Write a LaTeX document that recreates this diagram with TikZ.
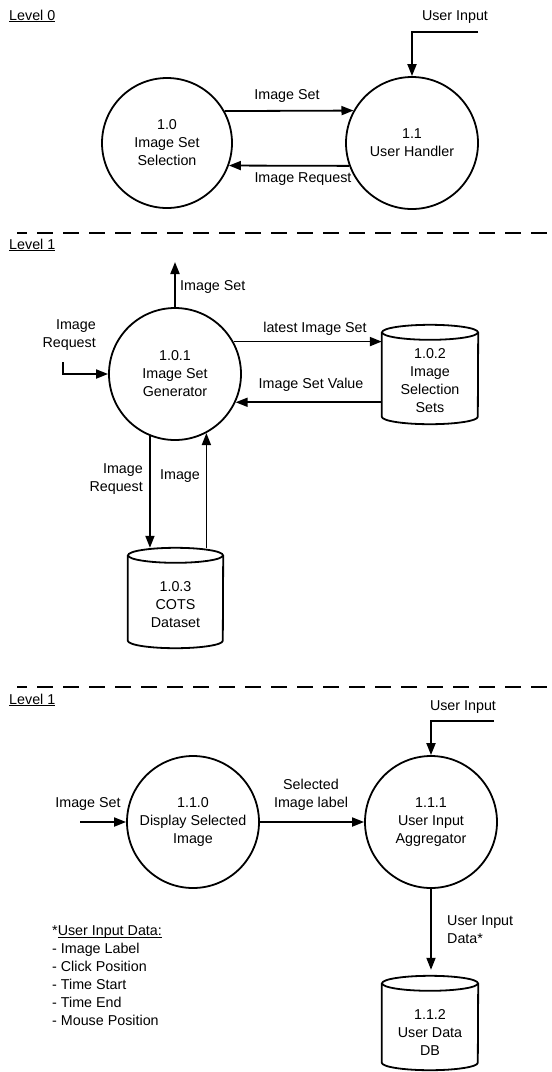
\documentclass[tikz,border=0pt]{standalone}
\usepackage{fontspec}
\setmainfont{Liberation Sans}
\usetikzlibrary{arrows.meta}
\newcommand{\myul}[1]{\setbox0\hbox{#1}\rlap{\rule[-2pt]{\wd0}{0.9pt}}\box0}
\tikzset{
  line/.style={line width=1.8pt},
  arr/.style={line width=1.8pt, -{Triangle[length=12pt,width=9pt]}},
  proc/.style={circle, draw, line width=1.8pt, minimum size=132pt, inner sep=0pt, align=center},
  store/.style={rectangle, draw=none, minimum width=96pt, inner sep=0pt},
  lbl/.style={inner sep=0pt, align=center},
  sepline/.style={line width=1.8pt, dash pattern=on 16pt off 10pt, dash phase=6pt},
}
\newcommand{\cylout}[2]{%
  \draw[line] ([yshift=-7.5pt]#1.north west) -- ([yshift=7.5pt]#1.south west)
    arc[start angle=180,end angle=360,x radius=#2,y radius=7.5pt]
    -- ([yshift=-7.5pt]#1.north east);
  \draw[line] ([yshift=-7.5pt]#1.north) ellipse[x radius=#2,y radius=7.5pt];}
\begin{document}
\begin{tikzpicture}[x=1pt,y=-1pt, every node/.append style={font=\fontsize{14.3pt}{18pt}\selectfont}]
\useasboundingbox (0,0) rectangle (552,1072);

% ---------- Level 0 ----------
\node[lbl,anchor=west] (lv0) at (9,16) {\myul{Level 0}};
\node[proc, minimum size=130pt] (c10) at (167,143) {1.0\\Image Set\\Selection};
\node[proc] (c11) at (412,143) {1.1\\User Handler};
\node[lbl] (ui0) at (455,17) {User Input};
\coordinate (ui0s) at (478,32);
\draw[arr] (ui0s) -| (c11.north);
\draw[arr] (c10.29.5) -- (c11.151);
\node[lbl] (lisA) at (287,96) {Image Set};
\draw[arr] (c11.200.4) -- (c10.-20.7);
\node[lbl] (lirA) at (303,179) {Image Request};

\coordinate (d1a) at (17,233);
\coordinate (d1b) at (552,233);
\draw[sepline] (d1a) -- (d1b);

% ---------- Level 1 (a) ----------
\node[lbl,anchor=west] (lv1a) at (9,245) {\myul{Level 1}};
\node[proc] (c101) at (175,374) {1.0.1\\Image Set\\Generator};
\coordinate (isup) at (175,262);
\draw[arr] (c101.north) -- (isup);
\node[lbl,anchor=west] (lisup) at (180,287) {Image Set};
\node[lbl,align=right,anchor=east] (lirq) at (96,335) {Image\\Request};
\coordinate (irs) at (63,362);
\draw[arr] (irs) |- (c101.west);

\node[store, minimum height=99pt] (s102) at (430,374.5) {};
\cylout{s102}{48pt}
\node[lbl] (t102) at (430,381) {1.0.2\\Image\\Selection\\Sets};
\draw[arr] (c101.29.5) -- (c101.29.5 -| s102.west);
\node[lbl] (llis) at (315,329) {latest Image Set};
\draw[arr] (s102.west |- c101.-25) -- (c101.-25);
\node[lbl] (lisv) at (311,385) {Image Set Value};

\node[store, minimum width=95pt, minimum height=100pt] (s103) at (175.5,598) {};
\cylout{s103}{47.5pt}
\node[lbl] (t103) at (175.5,605) {1.0.3\\COTS\\Dataset};
\draw[arr] (c101.-112.7) -- (c101.-112.7 |- s103.north);
\draw[arr] (c101.-62.5 |- s103.north) -- (c101.-62.5);
\node[lbl,align=right,anchor=east] (lirq2) at (143,479) {Image\\Request};
\node[lbl] (limg) at (180,476) {Image};

\coordinate (d2a) at (17,687);
\coordinate (d2b) at (552,687);
\draw[sepline] (d2a) -- (d2b);

% ---------- Level 1 (b) ----------
\node[lbl,anchor=west] (lv1b) at (9,700) {\myul{Level 1}};
\node[lbl] (ui1) at (463,707) {User Input};
\node[proc] (c110) at (193,822) {1.1.0\\Display Selected\\Image};
\node[proc] (c111) at (431,822) {1.1.1\\User Input\\Aggregator};
\coordinate (ui1s) at (494,721);
\draw[arr] (ui1s) -| (c111.north);
\coordinate (isin) at (80,822);
\draw[arr] (isin) -- (c110.west);
\node[lbl] (lisin) at (88,804) {Image Set};
\draw[arr] (c110.east) -- (c111.west);
\node[lbl] (lsel) at (311,795) {Selected\\Image label};

\node[store, minimum height=94pt] (s112) at (430,1023) {};
\cylout{s112}{48pt}
\node[lbl] (t112) at (430,1032) {1.1.2\\User Data\\DB};
\draw[arr, shorten >=6pt] (c111.south) -- (c111.south |- s112.north);
\node[lbl,align=left,anchor=west] (luid) at (447,930) {User Input\\Data*};
\node[lbl,align=left,anchor=west] (note) at (52,976) {*\myul{User Input Data:}\\- Image Label\\- Click Position\\- Time Start\\- Time End\\- Mouse Position};
\end{tikzpicture}
\end{document}
